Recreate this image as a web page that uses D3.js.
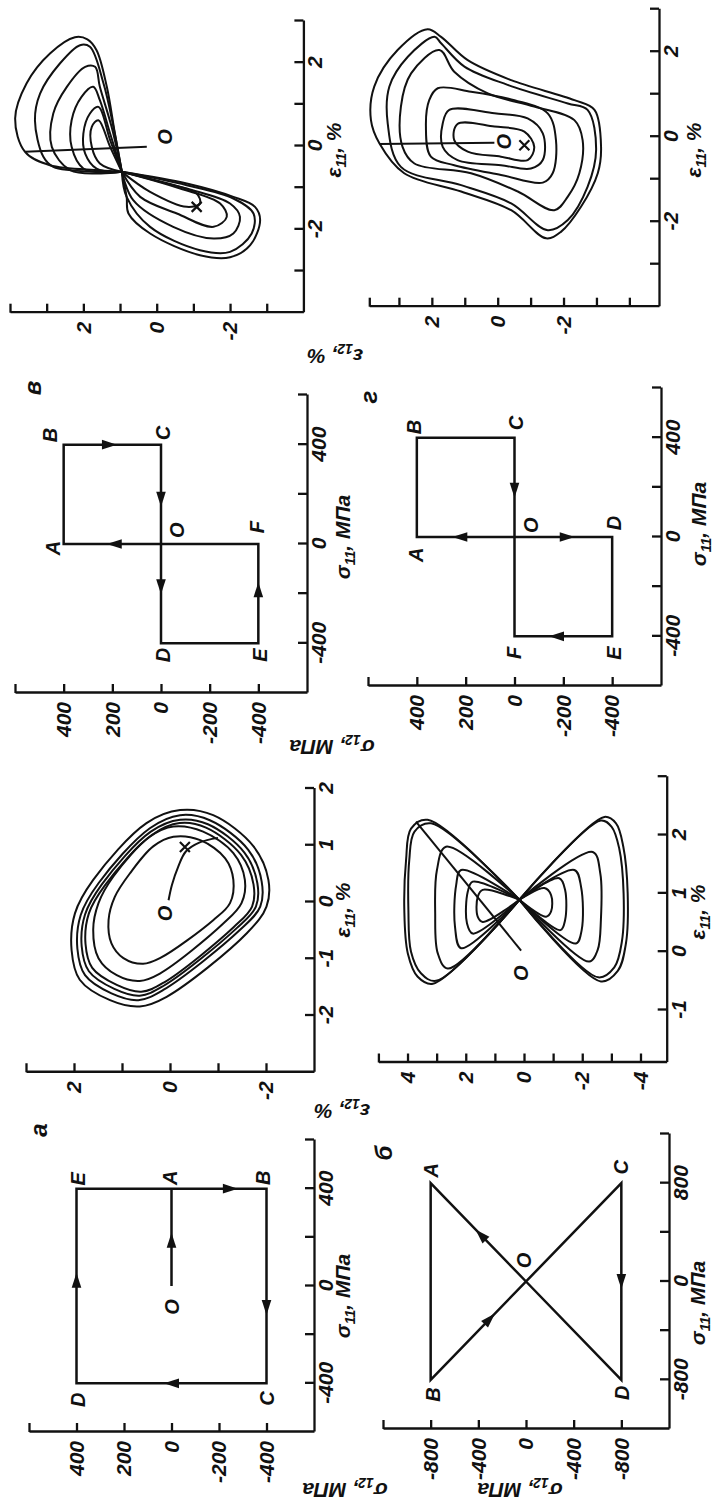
<!DOCTYPE html>
<html>
  <head>
    <meta http-equiv="Content-Type" content="text/html;charset=utf-8">
    <title>Stress programmes and strain trajectories</title>
    <script type="text/javascript" src="https://d3js.org/d3.v7.min.js"></script>
    <style>
      html, body { margin: 0; padding: 0; background: #fff; }
      text { font-family: "Liberation Sans", Arial, sans-serif; font-style: italic; font-weight: bold; fill: #111; }
      .axis path, .axis line { fill: none; stroke: #111; stroke-width: 2.3px; }
      .axis text { font-size: 21px; }
      path.route { fill: none; stroke: #111; stroke-width: 2.5px; stroke-linejoin: miter; }
      path.head { fill: #111; stroke: none; }
      path.loop { fill: none; stroke: #111; stroke-width: 2px; }
      path.mark { fill: none; stroke: #111; stroke-width: 2.2px; }
      text.name { font-size: 20px; }
      text.title { font-size: 21px; }
      text.title tspan.sub { font-size: 14px; }
      text.panel { font-size: 24px; }
    </style>
  </head>
  <body>
  <script type="text/javascript">

// ---------------- axis ticks and labels ----------------
var s600Ticks = [-400, -200, 0, 200, 400, 600];
var s11Labels600 = ["-400", "", "0", "", "400", ""];
var s12Labels600 = ["-400", "-200", "0", "200", "400", ""];
var s1200Ticks = [-800, -400, 0, 400, 800, 1200];
var bS11Labels = ["-800", "", "0", "", "800", ""];
var bS12Labels = ["-800", "-400", "0", "-400", "-800", ""];   // printed that way in the figure

var aE11Ticks = [-2, -1, 0, 1, 2];
var aE11Labels = ["-2", "-1", "0", "1", "2"];
var aE12Ticks = [-2, -1, 0, 1, 2, 3];
var aE12Labels = ["-2", "", "0", "", "2", ""];
var bE11Ticks = [-1, 0, 1, 2, 3];
var bE11Labels = ["-1", "0", "1", "2", ""];
var bE12Ticks = [-4, -3, -2, -1, 0, 1, 2, 3, 4, 5];
var bE12Labels = ["-4", "", "-2", "", "0", "", "2", "", "4", ""];
var vE11Ticks = [-3, -2, -1, 0, 1, 2, 3];
var vE11Labels = ["", "-2", "", "0", "", "2", ""];
var vE12Ticks = [-3, -2, -1, 0, 1, 2, 3, 4];
var vE12Labels = ["", "-2", "", "0", "", "2", "", ""];
var gE11Ticks = [-3, -2, -1, 0, 1, 2, 3];
var gE11Labels = ["", "-2", "", "0", "", "2", ""];
var gE12Ticks = [-4, -3, -2, -1, 0, 1, 2, 3, 3.9];
var gE12Labels = ["", "", "-2", "", "0", "", "2", "", ""];

// ---------------- stress programmes [σ11, σ12], МПа ----------------
var aPath = [[0,0],[400,0],[400,-400],[-400,-400],[-400,400],[400,400],[400,0]];
var aArrows = [[0,0.47],[1,0.62],[2,0.61],[3,0.5],[4,0.53]];     // [segment, fraction]
var aNames = [["O",-86,0],["A",445,8],["B",445,-383],["C",-462,-400],["D",-467,396],["E",440,396]];

var bPath = [[0,0],[800,800],[-800,800],[800,-800],[-800,-800],[0,0]];
var bArrows = [[0,0.475],[2,0.31],[3,0.5]];
var bNames = [["A",905,795],["B",-920,779],["C",930,-795],["D",-905,-803],["O",172,16]];

var vPath = [[0,0],[0,400],[400,400],[400,0],[0,0],[-400,0],[-400,-400],[0,-400],[0,0]];
var vArrows = [[0,0.48],[2,0.47],[3,0.55],[4,0.43],[6,0.54]];
var vNames = [["B",439,456],["C",447,-8],["A",-16,444],["O",56,-66],["F",68,-395],["D",-447,-8],["E",-447,-407]];

var gPath = [[0,0],[0,400],[400,400],[400,0],[0,0],[0,-400],[-400,-400],[-400,0],[0,0]];
var gArrows = [[0,0.56],[3,0.53],[4,0.54],[6,0.57]];
var gNames = [["B",443,412],["C",459,-6],["A",-72,403],["O",48,-68],["D",56,-407],["F",-467,2],["E",-467,-407]];

// ---------------- strain trajectories [ε11, ε12], % ----------------
var aStart = [[0.03,0.03],[0.30,-0.04],[0.62,-0.17],[0.89,-0.33],[1.05,-0.62],[1.13,-1.0]];
var aMark = [0.97,-0.31];
var aOrigin = [-0.2,0.1];
var aLoops = [
  [[1.15,-0.07],[1.09,-0.63],[0.77,-1.15],[0.39,-1.32],[-0.02,-1.25],[-0.32,-0.90],[-0.99,0.21],[-1.09,0.56],[-0.99,0.97],[-0.73,1.22],[-0.32,1.28],[0.09,1.15],[0.51,0.83],[0.98,0.35]],
  [[1.33,-0.07],[1.24,-0.69],[0.86,-1.32],[0.39,-1.56],[-0.02,-1.49],[-0.38,-1.11],[-1.26,0.21],[-1.39,0.63],[-1.29,1.11],[-0.99,1.49],[-0.49,1.60],[-0.02,1.49],[0.45,1.18],[1.15,0.42]],
  [[1.39,-0.20],[1.31,-0.75],[0.83,-1.48],[0.31,-1.74],[-0.08,-1.71],[-0.44,-1.33],[-1.42,0.13],[-1.58,0.60],[-1.46,1.11],[-1.16,1.62],[-0.74,1.76],[-0.20,1.69],[0.29,1.36],[1.18,0.38]],
  [[1.45,-0.21],[1.37,-0.79],[0.87,-1.55],[0.33,-1.82],[-0.08,-1.79],[-0.46,-1.39],[-1.48,0.14],[-1.65,0.63],[-1.53,1.16],[-1.22,1.69],[-0.78,1.84],[-0.22,1.77],[0.31,1.42],[1.24,0.40]],
  [[1.53,-0.21],[1.44,-0.83],[0.92,-1.63],[0.36,-1.91],[-0.08,-1.88],[-0.49,-1.46],[-1.55,0.14],[-1.73,0.66],[-1.61,1.22],[-1.29,1.77],[-0.82,1.93],[-0.23,1.86],[0.33,1.49],[1.30,0.42]],
  [[1.62,-0.21],[1.53,-0.90],[0.98,-1.74],[0.39,-2.05],[-0.08,-2.01],[-0.55,-1.60],[-1.67,0.07],[-1.84,0.63],[-1.73,1.25],[-1.37,1.88],[-0.85,2.05],[-0.20,1.98],[0.39,1.60],[1.39,0.49]]
];

var bStart = [[0.02,0.1],[2.23,3.71]];
var bOrigin = [-0.37,0.1];
var bLobes = [
  [[0.89,0.16],[2.26,3.31],[2.11,3.88],[1.57,4.05],[0.71,4.11],[-0.03,3.99],[-0.43,3.65],[-0.55,3.13],[0.89,0.16]],
  [[0.89,0.16],[2.20,3.19],[2.06,3.76],[1.57,3.94],[0.71,3.97],[0.00,3.88],[-0.37,3.54],[-0.50,3.02],[0.89,0.16]],
  [[0.89,0.16],[1.80,2.68],[1.40,2.99],[0.66,3.05],[-0.03,2.96],[-0.29,2.62],[0.89,0.16]],
  [[0.89,0.16],[1.40,2.16],[1.14,2.33],[0.43,2.37],[0.06,2.16],[0.89,0.16]],
  [[0.89,0.16],[1.20,1.76],[1.03,1.93],[0.49,1.96],[0.31,1.76],[0.89,0.16]],
  [[0.89,0.16],[1.06,1.42],[0.94,1.59],[0.60,1.59],[0.51,1.42],[0.89,0.16]],
  [[0.89,0.16],[2.31,-2.76],[2.20,-3.16],[1.80,-3.41],[1.00,-3.56],[0.14,-3.50],[-0.33,-3.22],[-0.51,-2.64],[0.89,0.16]],
  [[0.89,0.16],[2.25,-2.64],[2.14,-3.01],[1.77,-3.27],[1.00,-3.42],[0.17,-3.36],[-0.27,-3.10],[-0.44,-2.55],[0.89,0.16]],
  [[0.89,0.16],[1.71,-2.36],[1.34,-2.62],[0.54,-2.64],[0.03,-2.53],[-0.17,-2.24],[0.89,0.16]],
  [[0.89,0.16],[1.40,-1.73],[1.11,-1.96],[0.37,-1.98],[0.14,-1.78],[0.89,0.16]],
  [[0.89,0.16],[1.26,-1.21],[1.06,-1.41],[0.54,-1.41],[0.37,-1.25],[0.89,0.16]],
  [[0.89,0.16],[1.09,-0.70],[0.97,-0.93],[0.69,-0.93],[0.60,-0.76],[0.89,0.16]]
];

var vStart = [[-0.02,0.27],[-0.14,3.59]];
var vMark = [-1.46,-1.09];
var vOrigin = [0.22,-0.23];
var vLobes = [
  [[-0.62,0.95],[0.30,1.14],[1.42,1.36],[2.30,1.64],[2.56,1.89],[2.61,2.23],[2.22,2.91],[1.50,3.55],[0.66,3.86],[-0.14,3.59],[-0.46,2.91],[-0.58,1.55],[-0.62,0.95]],
  [[-0.62,0.95],[0.46,1.18],[1.50,1.45],[2.38,1.82],[2.42,2.09],[1.98,2.64],[1.26,3.18],[0.62,3.32],[-0.26,3.09],[-0.50,2.82],[-0.62,1.55],[-0.62,0.95]],
  [[-0.62,0.95],[0.46,1.23],[1.42,1.55],[1.90,1.68],[1.90,1.95],[1.42,2.45],[0.78,2.82],[-0.02,2.86],[-0.58,2.36],[-0.66,1.55],[-0.62,0.95]],
  [[-0.62,0.95],[0.30,1.27],[1.10,1.55],[1.42,1.73],[1.18,2.05],[0.62,2.32],[-0.02,2.32],[-0.54,2.00],[-0.64,1.36],[-0.62,0.95]],
  [[-0.62,0.95],[0.14,1.27],[0.94,1.59],[0.78,1.82],[0.30,2.00],[-0.18,1.95],[-0.54,1.64],[-0.62,0.95]],
  [[-0.62,0.95],[-0.02,1.27],[0.62,1.59],[0.46,1.77],[-0.02,1.77],[-0.42,1.55],[-0.62,0.95]],
  [[-0.62,0.95],[-1.22,0.82],[-1.62,0.77],[-2.10,0.18],[-2.62,-1.18],[-2.67,-2.00],[-2.38,-2.55],[-1.78,-2.82],[-1.46,-2.68],[-1.22,-2.09],[-0.90,-0.82],[-0.62,0.95]],
  [[-0.62,0.95],[-1.22,0.82],[-1.94,0.18],[-2.50,-1.18],[-2.54,-2.00],[-2.10,-2.59],[-1.62,-2.64],[-1.26,-2.09],[-0.94,-0.82],[-0.62,0.95]],
  [[-0.62,0.95],[-1.30,0.64],[-1.94,-0.45],[-2.22,-1.55],[-2.10,-2.09],[-1.70,-2.27],[-1.38,-2.00],[-1.02,-0.82],[-0.62,0.95]],
  [[-0.62,0.95],[-1.22,0.45],[-1.62,-0.55],[-1.94,-1.55],[-1.70,-1.91],[-1.38,-1.73],[-1.02,-0.64],[-0.62,0.95]],
  [[-0.62,0.95],[-1.10,0.18],[-1.46,-0.82],[-1.38,-1.18],[-1.14,-1.09],[-0.86,-0.09],[-0.62,0.95]]
];

var gStart = [[-0.14,0.10],[-0.17,3.59]];
var gMark = [-0.20,-0.81];
var gOrigin = [-0.12,-0.18];
var gLoops = [
  [[0.30,1.22],[0.24,0.10],[0.12,-0.81],[-0.24,-1.11],[-0.55,-0.91],[-0.47,-0.10],[-0.35,0.91],[-0.08,1.32]],
  [[0.63,1.47],[0.55,0.10],[0.43,-0.91],[0.08,-1.37],[-0.55,-1.37],[-0.75,-1.01],[-0.67,-0.10],[-0.55,1.22],[-0.24,1.67],[0.31,1.67]],
  [[1.14,1.82],[1.06,0.81],[0.86,-0.51],[0.55,-1.52],[-0.08,-1.77],[-0.86,-1.67],[-1.08,-1.37],[-0.90,-0.10],[-0.67,1.32],[-0.47,2.03],[0.24,2.18],[0.86,2.08]],
  [[2.04,1.77],[1.53,1.32],[1.02,0.30],[0.71,-1.11],[0.39,-2.33],[-0.08,-2.58],[-0.86,-2.48],[-1.41,-2.13],[-1.73,-1.72],[-1.29,-0.61],[-0.86,0.81],[-0.63,2.53],[-0.24,2.89],[0.71,2.94],[1.49,2.63]],
  [[2.35,1.92],[1.88,2.73],[1.18,3.29],[0.31,3.34],[-0.71,2.94],[-1.14,1.11],[-1.57,-0.41],[-2.20,-1.52],[-1.96,-2.13],[-1.18,-2.73],[-0.31,-2.99],[0.63,-2.73],[0.78,-2.13],[1.22,-0.30],[1.65,1.01],[2.20,1.72]],
  [[2.53,2.13],[2.04,3.04],[1.18,3.75],[0.39,3.85],[-0.16,3.59],[-0.86,2.84],[-1.29,1.11],[-1.73,-0.41],[-2.39,-1.47],[-2.24,-1.92],[-1.65,-2.53],[-0.86,-3.04],[-0.24,-3.14],[0.63,-2.94],[0.86,-2.33],[1.33,-0.41],[1.80,0.91],[2.35,1.72]]
];

// ---------------- drawing ----------------
var W = 722, H = 1512;
var svg = d3.select("body").append("svg").attr("width", W).attr("height", H);
// the page is printed a quarter turn round: build it upright, then turn it
var fig = svg.append("g").attr("transform", "translate(0," + H + ") rotate(-90)");

function labeller(ticks, labels) {
  return function(d) { var i = ticks.indexOf(d); return i < 0 ? "" : labels[i]; };
}

function frame(f) {
  var x = d3.scaleLinear().domain(f.xDomain).range(f.xRange);
  var y = d3.scaleLinear().domain(f.yDomain).range(f.yRange);
  var g = fig.append("g");
  g.append("g").attr("class", "axis")
    .attr("transform", "translate(0," + y(f.yDomain[0]) + ")")
    .call(d3.axisBottom(x).tickValues(f.xTicks).tickFormat(labeller(f.xTicks, f.xLabels))
      .tickSizeInner(-9).tickSizeOuter(0).tickPadding(4));
  g.append("g").attr("class", "axis")
    .attr("transform", "translate(" + x(f.xDomain[0]) + ",0)")
    .call(d3.axisLeft(y).tickValues(f.yTicks).tickFormat(labeller(f.yTicks, f.yLabels))
      .tickSizeInner(-9).tickSizeOuter(0).tickPadding(9));
  return { g: g, x: x, y: y };
}

function name(P, t, a, b) {
  P.g.append("text").attr("class", "name")
    .attr("x", P.x(a)).attr("y", P.y(b)).attr("dy", "0.36em")
    .attr("text-anchor", "middle").text(t);
}

function stressPanel(f, path, arrows, names) {
  var P = frame(f);
  var line = d3.line().x(function(d) { return P.x(d[0]); }).y(function(d) { return P.y(d[1]); });
  P.g.append("path").attr("class", "route").attr("d", line(path));
  arrows.forEach(function(a) {
    var s = path[a[0]], e = path[a[0] + 1];
    var px = P.x(s[0] + (e[0] - s[0]) * a[1]), py = P.y(s[1] + (e[1] - s[1]) * a[1]);
    var ang = Math.atan2(P.y(e[1]) - P.y(s[1]), P.x(e[0]) - P.x(s[0])) * 180 / Math.PI;
    P.g.append("path").attr("class", "head")
      .attr("d", "M7.5,0L-7.5,-4.8L-7.5,4.8Z")
      .attr("transform", "translate(" + px + "," + py + ") rotate(" + ang + ")");
  });
  names.forEach(function(n) { name(P, n[0], n[1], n[2]); });
}

function strainPanel(f, loops, closed, start, origin, mark) {
  var P = frame(f);
  var line = d3.line().x(function(d) { return P.x(d[0]); }).y(function(d) { return P.y(d[1]); })
    .curve(closed ? d3.curveCatmullRomClosed.alpha(0.5) : d3.curveCatmullRom.alpha(0.5));
  P.g.selectAll("path.loop").data(loops).enter().append("path")
    .attr("class", "loop").attr("d", line);
  var open = d3.line().x(function(d) { return P.x(d[0]); }).y(function(d) { return P.y(d[1]); })
    .curve(d3.curveCatmullRom.alpha(0.5));
  P.g.append("path").attr("class", "loop").attr("d", open(start));
  name(P, "O", origin[0], origin[1]);
  if (mark) {
    P.g.append("path").attr("class", "mark").attr("d", "M-5,-5L5,5M-5,5L5,-5")
      .attr("transform", "translate(" + P.x(mark[0]) + "," + P.y(mark[1]) + ")");
  }
}

function title(u, v, sym, sub, unit, turned) {
  var t = fig.append("text").attr("class", "title")
    .attr("transform", "translate(" + u + "," + v + ")" + (turned ? " rotate(-90)" : ""))
    .attr("text-anchor", "middle");
  t.append("tspan").text(sym);
  t.append("tspan").attr("class", "sub").attr("dy", 5).text(sub);
  t.append("tspan").attr("dy", -5).text(", " + unit);
}

// stress panels
stressPanel({ xDomain: [-600, 600], xRange: [80, 372], yDomain: [-600, 600], yRange: [314, 29],
  xTicks: s600Ticks, xLabels: s11Labels600, yTicks: s600Ticks, yLabels: s12Labels600 }, aPath, aArrows, aNames);
stressPanel({ xDomain: [-1200, 1200], xRange: [83, 378], yDomain: [-1200, 1200], yRange: [669, 383],
  xTicks: s1200Ticks, xLabels: bS11Labels, yTicks: s1200Ticks, yLabels: bS12Labels }, bPath, bArrows, bNames);
stressPanel({ xDomain: [-600, 600], xRange: [819, 1117], yDomain: [-600, 600], yRange: [307, 15],
  xTicks: s600Ticks, xLabels: s11Labels600, yTicks: s600Ticks, yLabels: s12Labels600 }, vPath, vArrows, vNames);
stressPanel({ xDomain: [-600, 600], xRange: [826, 1124], yDomain: [-600, 600], yRange: [661, 368],
  xTicks: s600Ticks, xLabels: s11Labels600, yTicks: s600Ticks, yLabels: s12Labels600 }, gPath, gArrows, gNames);

// strain panels
strainPanel({ xDomain: [-3, 2], xRange: [439.75, 723.5], yDomain: [-3, 3], yRange: [314, 26],
  xTicks: aE11Ticks, xLabels: aE11Labels, yTicks: aE12Ticks, yLabels: aE12Labels }, aLoops, true, aStart, aOrigin, aMark);
strainPanel({ xDomain: [-1.9, 3], xRange: [449.5, 735.3], yDomain: [-4.9, 5], yRange: [666.7, 378.4],
  xTicks: bE11Ticks, xLabels: bE11Labels, yTicks: bE12Ticks, yLabels: bE12Labels }, bLobes, false, bStart, bOrigin, null);
strainPanel({ xDomain: [-4, 3], xRange: [1199.3, 1491], yDomain: [-4, 4], yRange: [303.4, 10],
  xTicks: vE11Ticks, xLabels: vE11Labels, yTicks: vE12Ticks, yLabels: vE12Labels }, vLobes, false, vStart, vOrigin, vMark);
strainPanel({ xDomain: [-4, 3], xRange: [1205.3, 1502.8], yDomain: [-4.9, 3.9], yRange: [659, 369.3],
  xTicks: gE11Ticks, xLabels: gE11Labels, yTicks: gE12Ticks, yLabels: gE12Labels }, gLoops, true, gStart, gOrigin, gMark);

// axis titles
title(216, 350, "σ", "11", "МПа", false);
title(209, 705, "σ", "11", "МПа", false);
title(975, 350, "σ", "11", "МПа", false);
title(988, 706, "σ", "11", "МПа", false);
title(602, 350, "ε", "11", "%", false);
title(600, 705, "ε", "11", "%", false);
title(1362, 341, "ε", "11", "%", false);
title(1362, 701, "ε", "11", "%", false);
title(29, 345, "σ", "12", "МПа", true);
title(29, 520, "σ", "12", "МПа", true);
title(408, 342, "ε", "12", "%", true);
title(772, 332, "σ", "12", "МПа", true);
title(1163, 335, "ε", "12", "%", true);

// panel letters
[["а", 382, 38], ["б", 359, 383], ["в", 1124, 32], ["г", 1115, 368]].forEach(function(p) {
  fig.append("text").attr("class", "panel").attr("x", p[1]).attr("y", p[2])
    .attr("dy", "0.36em").attr("text-anchor", "middle").text(p[0]);
});

  </script>
  </body>
</html>
